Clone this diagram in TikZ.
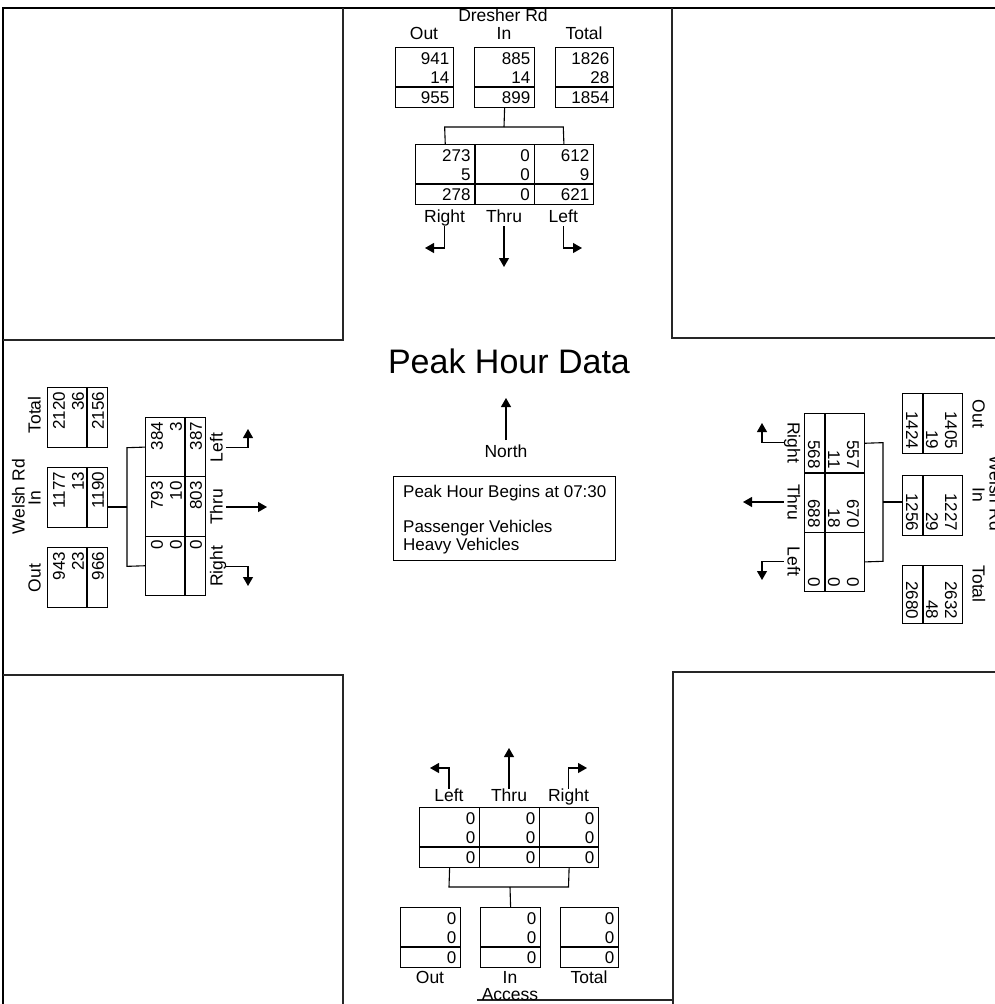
\documentclass[tikz,border=0pt]{standalone}
\usepackage{fontspec}
\setmainfont{Liberation Sans}
\usetikzlibrary{arrows.meta}
\tikzset{
  dbx/.style={draw, line width=1.2pt, minimum height=60pt, inner sep=0pt, anchor=north west},
  num/.style={font=\fontsize{17}{19}\selectfont, anchor=east, inner sep=0pt},
  lbl/.style={font=\fontsize{17.5}{19}\selectfont, inner sep=0pt, text height=12.5pt, text depth=3.5pt},
  conn/.style={line width=1.1pt},
  arr/.style={line width=1.1pt, -{Triangle[length=9pt,width=10pt]}},
  framel/.style={line width=2pt},
  cornerl/.style={line width=1.1pt, black!85},
}
\newcommand\dbox[7]{%
  \node[dbx, minimum width=#4pt] (#1) at (#2,#3) {};
  \draw[conn] (#2,#3+40) -- (#2+#4,#3+40);
  \node[num] (#1a) at (#2+#4-3.5,#3+12) {#5};
  \node[num] (#1b) at (#2+#4-3.5,#3+31) {#6};
  \node[num] (#1c) at (#2+#4-3.5,#3+51) {#7};
}
\begin{document}
\begin{tikzpicture}[x=1pt,y=-1pt]
\useasboundingbox (0,0) rectangle (995,1004);
\clip (0,0) rectangle (995,1004);

% frame and corner blocks
\draw[framel] (3,1004) -- (3,8) -- (995,8);
\draw[cornerl] (343,8) -- (343,340) -- (3,340);
\draw[cornerl] (672,8) -- (672,338) -- (995,338);
\draw[cornerl] (3,675) -- (343,675) -- (343,1004);
\draw[cornerl] (995,672) -- (673,672) -- (673,1004);
\draw[cornerl] (477,1000) -- (673,1000);

% ---------------- top approach (Dresher Rd)
\begin{scope}[shift={(395,47)}]
  \node[lbl] (tName) at (108,-30) {Dresher Rd};
  \node[lbl] (tOutL) at (29,-12) {Out};
  \node[lbl] (tInL) at (109,-12) {In};
  \node[lbl] (tTotL) at (189,-12) {Total};
  \dbox{tOut}{0}{0}{58}{941}{14}{955}
  \dbox{tIn}{79}{0}{60}{885}{14}{899}
  \dbox{tTot}{160}{0}{58}{1826}{28}{1854}
  \dbox{tR}{20}{97}{59.3}{273}{5}{278}
  \dbox{tT}{79.3}{97}{59.3}{0}{0}{0}
  \dbox{tL}{138.6}{97}{59.4}{612}{9}{621}
  \coordinate (tJ) at (109,80);
  \coordinate (tRj) at (49.65,80);
  \coordinate (tLj) at (168.3,80);
  \draw[conn] (tIn.south) -- (tJ);
  \draw[conn] (tR.north) -- (tRj) -- (tLj) -- (tL.north);
  \node[lbl] (tRl) at (49.65,171) {Right};
  \node[lbl] (tTl) at (109,171) {Thru};
  \node[lbl] (tLl) at (168.3,171) {Left};
  \coordinate (tRb) at (49.65,201);
  \coordinate (tRc) at (30,201);
  \coordinate (tTa) at (109,220);
  \coordinate (tLb) at (168.3,201);
  \coordinate (tLc) at (187,201);
  \draw[arr] (tRl.south) -- (tRb) -- (tRc);
  \draw[arr] (tTl.south) -- (tTa);
  \draw[arr] (tLl.south) -- (tLb) -- (tLc);
\end{scope}

% ---------------- left approach (Welsh Rd, west)
\begin{scope}[shift={(47,608)}, rotate=90, transform shape]
  \node[lbl] (lName) at (111,-27) {Welsh Rd};
  \node[lbl] (lOutL) at (30,-11) {Out};
  \node[lbl] (lInL) at (110,-11) {In};
  \node[lbl] (lTotL) at (193,-11) {Total};
  \dbox{lOut}{0}{0}{60}{943}{23}{966}
  \dbox{lIn}{80}{0}{60}{1177}{13}{1190}
  \dbox{lTot}{160}{0}{60}{2120}{36}{2156}
  \dbox{lR}{12}{98}{59.3}{0}{0}{0}
  \dbox{lT}{71.3}{98}{59.3}{793}{10}{803}
  \dbox{lL}{130.6}{98}{59.4}{384}{3}{387}
  \coordinate (lInJ) at (101,60);
  \coordinate (lJ) at (101,80);
  \coordinate (lRj) at (41.65,80);
  \coordinate (lLj) at (160.3,80);
  \draw[conn] (lInJ) -- (lJ);
  \draw[conn] (lR.north) -- (lRj) -- (lLj) -- (lL.north);
  \node[lbl] (lRl) at (41.65,171) {Right};
  \node[lbl] (lTl) at (101,171) {Thru};
  \node[lbl] (lLl) at (160.3,171) {Left};
  \coordinate (lRb) at (41.65,201);
  \coordinate (lRc) at (22,201);
  \coordinate (lTa) at (101,220);
  \coordinate (lLb) at (160.3,201);
  \coordinate (lLc) at (179,201);
  \draw[arr] (lRl.south) -- (lRb) -- (lRc);
  \draw[arr] (lTl.south) -- (lTa);
  \draw[arr] (lLl.south) -- (lLb) -- (lLc);
\end{scope}

% ---------------- right approach (Welsh Rd, east)
\begin{scope}[shift={(963,393)}, rotate=-90, transform shape]
  \node[lbl] (rName) at (100,-31) {Welsh Rd};
  \node[lbl] (rOutL) at (21,-14) {Out};
  \node[lbl] (rInL) at (102,-14) {In};
  \node[lbl] (rTotL) at (191,-14) {Total};
  \dbox{rOut}{0}{0}{60}{1405}{19}{1424}
  \dbox{rIn}{82}{0}{60}{1227}{29}{1256}
  \dbox{rTot}{172}{0}{58}{2632}{48}{2680}
  \dbox{rR}{20}{98}{59.3}{557}{11}{568}
  \dbox{rT}{79.3}{98}{59.3}{670}{18}{688}
  \dbox{rL}{138.6}{98}{59.4}{0}{0}{0}
  \coordinate (rInJ) at (109,60);
  \coordinate (rJ) at (109,80);
  \coordinate (rRj) at (49.65,80);
  \coordinate (rLj) at (168.3,80);
  \draw[conn] (rInJ) -- (rJ);
  \draw[conn] (rR.north) -- (rRj) -- (rLj) -- (rL.north);
  \node[lbl] (rRl) at (49.65,171) {Right};
  \node[lbl] (rTl) at (109,171) {Thru};
  \node[lbl] (rLl) at (168.3,171) {Left};
  \coordinate (rRb) at (49.65,201);
  \coordinate (rRc) at (30,201);
  \coordinate (rTa) at (109,220);
  \coordinate (rLb) at (168.3,201);
  \coordinate (rLc) at (187,201);
  \draw[arr] (rRl.south) -- (rRb) -- (rRc);
  \draw[arr] (rTl.south) -- (rTa);
  \draw[arr] (rLl.south) -- (rLb) -- (rLc);
\end{scope}

% ---------------- bottom approach (Access)
\dbox{bL}{419}{807}{60}{0}{0}{0}
\dbox{bT}{479}{807}{60}{0}{0}{0}
\dbox{bR}{539}{807}{59}{0}{0}{0}
\node[lbl] (bLl) at (449,797) {Left};
\node[lbl] (bTl) at (509,797) {Thru};
\node[lbl] (bRl) at (568.5,797) {Right};
\coordinate (bLb) at (449,768);
\coordinate (bLc) at (430,768);
\coordinate (bTa) at (509,748);
\coordinate (bRb) at (568.5,768);
\coordinate (bRc) at (587,768);
\draw[arr] (bLl.north) -- (bLb) -- (bLc);
\draw[arr] (bTl.north) -- (bTa);
\draw[arr] (bRl.north) -- (bRb) -- (bRc);
\dbox{bOut}{400}{907}{60}{0}{0}{0}
\dbox{bIn}{480}{907}{60}{0}{0}{0}
\dbox{bTot}{560}{907}{58}{0}{0}{0}
\coordinate (bJ) at (510,887);
\coordinate (bLj) at (449,887);
\coordinate (bRj) at (568.5,887);
\draw[conn] (bL.south) -- (bLj) -- (bRj) -- (bR.south);
\draw[conn] (bJ) -- (bIn.north);
\node[lbl] (bOutL) at (430,979) {Out};
\node[lbl] (bInL) at (510,979) {In};
\node[lbl] (bTotL) at (589,979) {Total};
\node[lbl] (bName) at (510,996) {Access};

% ---------------- centre
\node[font=\fontsize{34}{40}\selectfont, inner sep=0pt] (title) at (509,361) {Peak Hour Data};
\node[lbl] (north) at (506,453) {North};
\coordinate (nb) at (506,440);
\coordinate (nt) at (506,398);
\draw[arr] (nb) -- (nt);
\node[draw, line width=1.1pt, minimum width=222pt, minimum height=84pt, inner sep=0pt, anchor=north west] (legend) at (393,476) {};
\node[font=\fontsize{17}{18}\selectfont, anchor=west, inner sep=0pt] (lg1) at (403,493) {Peak Hour Begins at 07:30};
\node[font=\fontsize{17}{18}\selectfont, anchor=west, inner sep=0pt] (lg2) at (403,528) {Passenger Vehicles};
\node[font=\fontsize{17}{18}\selectfont, anchor=west, inner sep=0pt] (lg3) at (403,546) {Heavy Vehicles};
\end{tikzpicture}
\end{document}
